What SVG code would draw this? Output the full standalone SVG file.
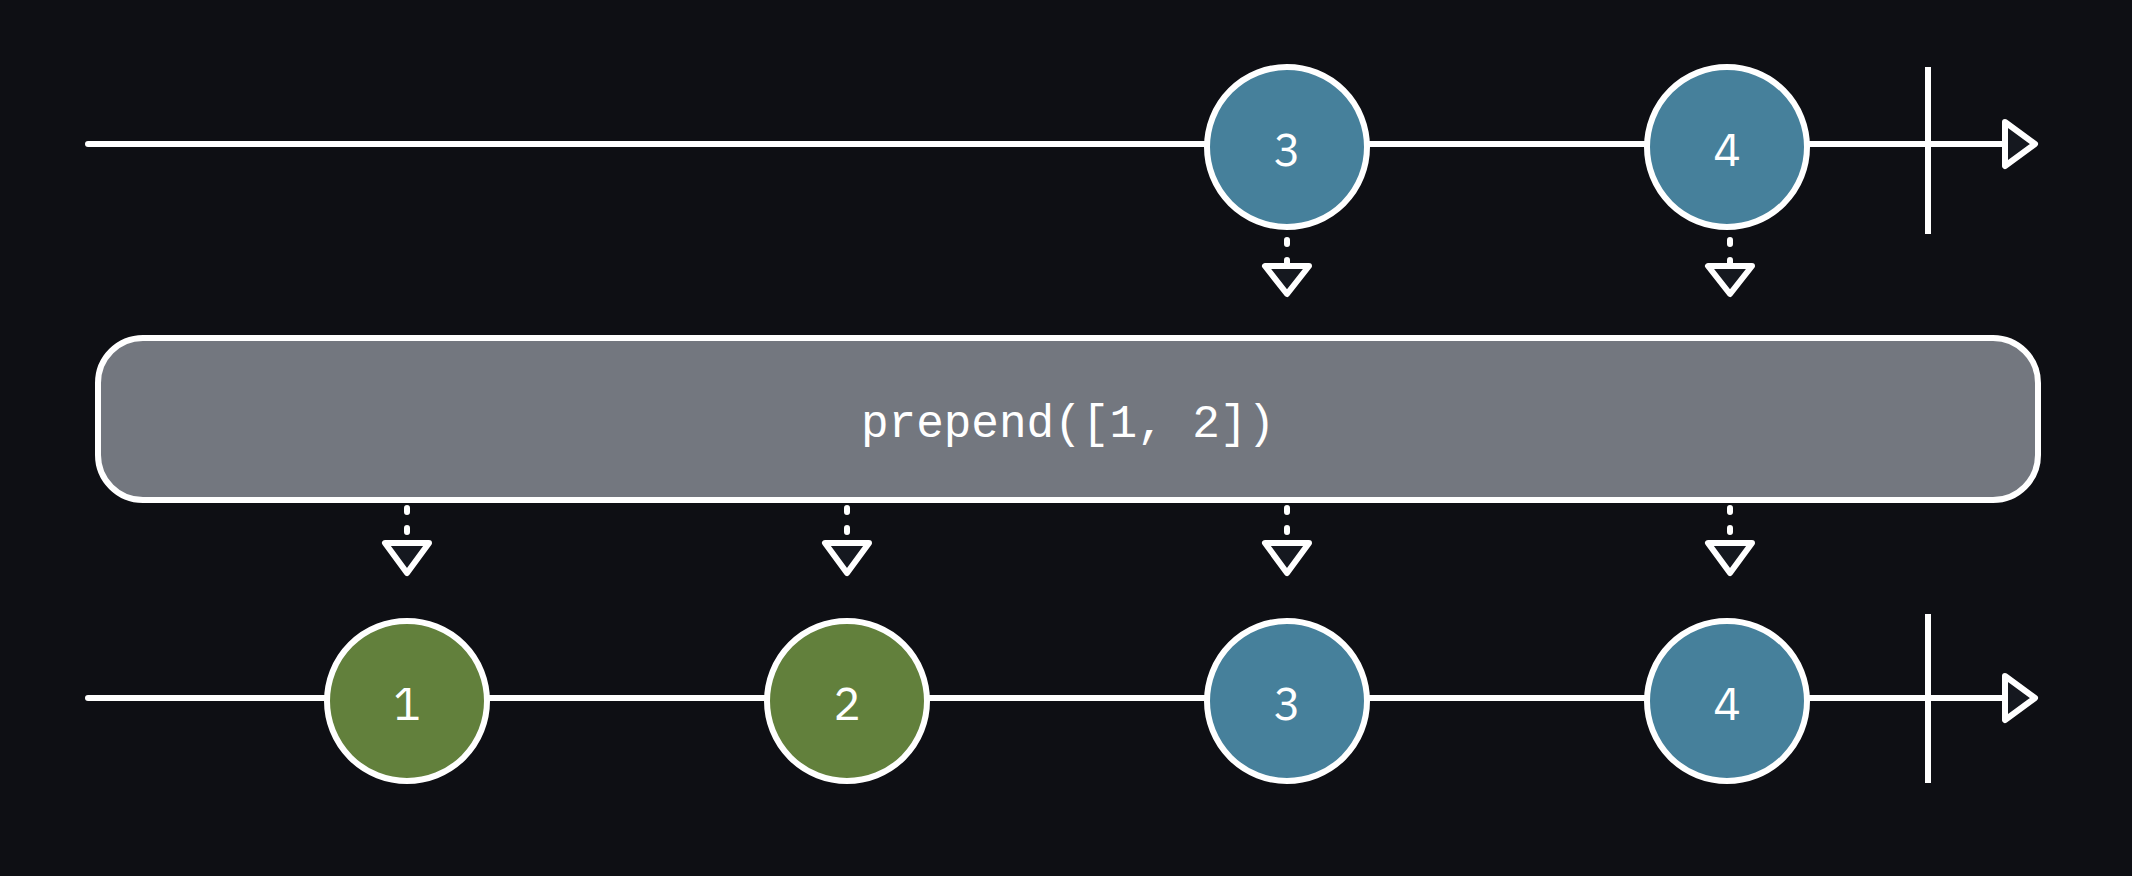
<svg xmlns="http://www.w3.org/2000/svg" width="2132" height="876" viewBox="0 0 2132 876">
  <style>
    .line { stroke: #ffffff; stroke-width: 6; fill: none; stroke-linecap: round; }
    .bar { stroke: #ffffff; stroke-width: 6; fill: none; }
    .head { stroke: #ffffff; stroke-width: 6; fill: #15181f; stroke-linejoin: round; }
    .dash { stroke: #ffffff; stroke-width: 6; fill: none; stroke-linecap: round; stroke-dasharray: 4 16; }
    .blue { fill: #46809b; stroke: #ffffff; stroke-width: 6; }
    .green { fill: #62803c; stroke: #ffffff; stroke-width: 6; }
    .num { fill: #ffffff; font-family: "IBM Plex Sans", Inter, "Liberation Sans", sans-serif; font-size: 46px; text-anchor: middle; }
    .op { fill: #73777f; stroke: #ffffff; stroke-width: 6; }
    .code { fill: #ffffff; font-family: "Liberation Mono", "DejaVu Sans Mono", monospace; font-size: 46px; text-anchor: middle; }
  </style>
  <rect width="2132" height="876" fill="#0e0f14"/>

  <!-- timelines and connectors -->
  <g id="connectors">
    <!-- source stream -->
    <line class="line" x1="88" y1="144" x2="2005" y2="144"/>
    <line class="bar" x1="1928" y1="67" x2="1928" y2="234"/>
    <path class="head" d="M2005 122 L2035 144 L2005 166 Z"/>
    <!-- result stream -->
    <line class="line" x1="88" y1="698" x2="2005" y2="698"/>
    <line class="bar" x1="1928" y1="614" x2="1928" y2="783"/>
    <path class="head" d="M2005 676 L2035 698 L2005 720 Z"/>

    <!-- source into operator -->
    <line class="dash" x1="1287" y1="240" x2="1287" y2="264"/>
    <path class="head" d="M1265 266 L1309 266 L1287 294 Z"/>
    <line class="dash" x1="1730" y1="240" x2="1730" y2="264"/>
    <path class="head" d="M1708 266 L1752 266 L1730 294 Z"/>

    <!-- operator into result -->
    <line class="dash" x1="407" y1="508" x2="407" y2="532"/>
    <path class="head" d="M385 543 L429 543 L407 573 Z"/>
    <line class="dash" x1="847" y1="508" x2="847" y2="532"/>
    <path class="head" d="M825 543 L869 543 L847 573 Z"/>
    <line class="dash" x1="1287" y1="508" x2="1287" y2="532"/>
    <path class="head" d="M1265 543 L1309 543 L1287 573 Z"/>
    <line class="dash" x1="1730" y1="508" x2="1730" y2="532"/>
    <path class="head" d="M1708 543 L1752 543 L1730 573 Z"/>
  </g>

  <!-- source marbles -->
  <g id="src-3">
    <circle class="blue" cx="1287" cy="147" r="80"/>
    <text class="num" x="1287" y="166">3</text>
  </g>
  <g id="src-4">
    <circle class="blue" cx="1727" cy="147" r="80"/>
    <text class="num" x="1727" y="166">4</text>
  </g>

  <!-- operator -->
  <g id="operator">
    <rect class="op" x="98" y="338" width="1940" height="162" rx="45" ry="45"/>
    <text class="code" x="1068" y="437">prepend([1, 2])</text>
  </g>

  <!-- result marbles -->
  <g id="out-1">
    <circle class="green" cx="407" cy="701" r="80"/>
    <text class="num" x="407" y="720">1</text>
  </g>
  <g id="out-2">
    <circle class="green" cx="847" cy="701" r="80"/>
    <text class="num" x="847" y="720">2</text>
  </g>
  <g id="out-3">
    <circle class="blue" cx="1287" cy="701" r="80"/>
    <text class="num" x="1287" y="720">3</text>
  </g>
  <g id="out-4">
    <circle class="blue" cx="1727" cy="701" r="80"/>
    <text class="num" x="1727" y="720">4</text>
  </g>
</svg>
